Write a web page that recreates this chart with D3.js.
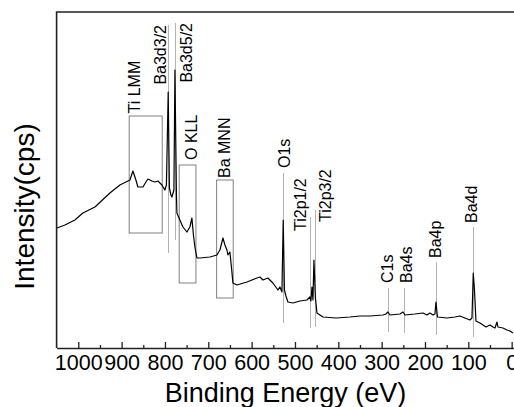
<!DOCTYPE html>
<html>
<head>
<meta charset="utf-8">
<script src="https://cdn.jsdelivr.net/npm/d3@7"></script>
<style>
  body { margin: 0; background: #fff; }
  svg { display: block; }
  text { font-family: Arial, "Liberation Sans", sans-serif; fill: #000; }
</style>
</head>
<body>
<svg id="xps_svg" width="514" height="407"></svg>
<script>
// survey spectrum, binding energy (eV) vs counts
const energy = [1049.3, 1030.8, 1007.8, 989.3, 961.6, 927.0, 903.9, 885.5, 880.8, 873.9,
    867.0, 862.4, 850.8, 843.9, 839.3, 830.1, 823.2, 816.2, 807.0, 800.1,
    796.6, 792.5, 789.7, 786.2, 783.9, 779.3, 777.0, 773.5, 772.4, 765.5,
    758.5, 749.3, 742.4, 737.8, 734.3, 730.9, 726.2, 719.3, 696.2, 680.1,
    673.2, 666.2, 661.6, 657.0, 654.7, 650.1, 645.5, 643.2, 633.9, 610.8,
    587.8, 580.8, 573.9, 562.4, 550.9, 539.3, 534.7, 530.1, 527.1, 524.3,
    520.9, 516.2, 504.7, 488.5, 472.4, 465.5, 463.2, 460.8, 458.5, 456.2,
    452.8, 449.3, 442.4, 435.5, 405.0, 373.2, 350.0, 327.0, 297.0, 290.1,
    285.5, 280.8, 257.8, 250.8, 246.2, 223.2, 204.7, 195.5, 188.5, 181.6,
    177.0, 174.7, 171.2, 149.3, 130.8, 119.3, 107.8, 96.2, 91.6, 88.6,
    85.8, 82.4, 77.8, 73.2, 66.2, 59.3, 50.1, 43.2, 38.5, 33.9,
    31.6, 20.1, 10.8, 3.9, -3.0];
const counts = [12000, 12300, 12800, 13500, 14100, 15500, 16300, 16700, 16800, 17700,
    16800, 16100, 16100, 16600, 16900, 16700, 16600, 16700, 16300, 15800,
    16300, 25600, 16000, 15300, 15100, 15800, 27800, 15300, 13500, 12800,
    12100, 11600, 12100, 13000, 11300, 10100, 9000, 9000, 9100, 9300,
    9800, 11000, 10300, 9800, 9300, 9600, 7600, 6500, 6300, 6600,
    7000, 7100, 6800, 7000, 6500, 5800, 6100, 5600, 12800, 5800,
    5200, 4600, 4500, 4700, 4800, 5100, 4700, 6100, 4800, 8800,
    5000, 3500, 3300, 3100, 3000, 3100, 3200, 3200, 3300, 3400,
    3600, 3300, 3400, 3600, 3300, 3400, 3500, 3300, 3500, 3300,
    3400, 4600, 3100, 3000, 3100, 3200, 3000, 2800, 3000, 7500,
    5800, 2700, 2600, 2500, 2300, 2100, 2300, 2100, 2000, 2600,
    2100, 2000, 1800, 1700, 1500];

// peak markers: name, energy of the marker line, line top / bottom in counts
const peakNames = ["Ba3d3/2", "Ba3d5/2", "O1s", "Ti2p1/2", "Ti2p3/2", "C1s", "Ba4s", "Ba4p", "Ba4d"];
const peakEnergy = [792.5, 777.0, 527.1, 465.5, 453.9, 284.8, 248.5, 174.7, 88.6];
const peakTop = [32300, 32500, 17500, 13100, 13800, 6000, 6000, 8600, 12100];
const peakBottom = [9500, 10800, 2500, 2000, 2100, 1600, 1500, 1300, 1100];

// auger regions: name, energy range, counts range
const regionNames = ["Ti LMM", "O KLL", "Ba MNN"];
const regionFrom = [882.5, 767.1, 680.8];
const regionTo = [806.3, 728.5, 642.5];
const regionHigh = [23200, 18300, 16800];
const regionLow = [11500, 6500, 5000];

const majorTicks = [1000, 900, 800, 700, 600, 500, 400, 300, 200, 100, 0];

// where each label sits next to its marker (px)
const labelPos = {
    "Ba3d3/2": {dx: -2, dy: 0, anchor: "end"},
    "Ba3d5/2": {dx: 17.5, dy: 0, anchor: "end"},
    "O1s": {dx: 6.5, dy: -5, anchor: "start"},
    "Ti2p1/2": {dx: -3.5, dy: 14, anchor: "start"},
    "Ti2p3/2": {dx: 16.5, dy: 12, anchor: "start"},
    "C1s": {dx: 5, dy: -5, anchor: "start"},
    "Ba4s": {dx: 8.5, dy: -5, anchor: "start"},
    "Ba4p": {dx: 5.5, dy: -4, anchor: "start"},
    "Ba4d": {dx: 4, dy: -4, anchor: "start"},
    "Ti LMM": {dx: 11, dy: -2.5, anchor: "start"},
    "O KLL": {dx: 17.5, dy: -5, anchor: "start"},
    "Ba MNN": {dx: 13.5, dy: -2, anchor: "start"}
};

function drawSpectrum(){
    const svg = d3.select('#xps_svg');
    svg.selectAll("*").remove();

    const left = 56.6, top = 12, bottom = 348, right = 516;

    const x = d3.scaleLinear().domain([1050, -10]).range([left, right]);
    const y = d3.scaleLinear().domain([0, 33600]).range([bottom, top]);

    svg.append("clipPath").attr("id", "plotclip")
      .append("rect")
        .attr("x", left).attr("y", top)
        .attr("width", right - left).attr("height", bottom - top);

    const data = energy.map((e, i) => ({e: e, c: counts[i]}));

    // auger boxes
    svg.append("g")
      .selectAll("rect")
      .data(regionNames)
      .enter().append("rect")
        .attr("x", (d, i) => x(regionFrom[i]))
        .attr("y", (d, i) => y(regionHigh[i]))
        .attr("width", (d, i) => x(regionTo[i]) - x(regionFrom[i]))
        .attr("height", (d, i) => y(regionLow[i]) - y(regionHigh[i]))
        .attr("fill", "none")
        .attr("stroke", "#808080")
        .attr("stroke-width", 1);

    // marker lines
    svg.append("g")
      .selectAll("line")
      .data(peakNames)
      .enter().append("line")
        .attr("x1", (d, i) => Math.round(x(peakEnergy[i])) + 0.5)
        .attr("x2", (d, i) => Math.round(x(peakEnergy[i])) + 0.5)
        .attr("y1", (d, i) => y(peakTop[i]))
        .attr("y2", (d, i) => y(peakBottom[i]))
        .attr("stroke", "#b4b4b4")
        .attr("stroke-width", 1);

    // the spectrum
    const line = d3.line().x(d => x(d.e)).y(d => y(d.c));
    svg.append("path")
      .datum(data)
      .attr("clip-path", "url(#plotclip)")
      .attr("d", line)
      .attr("fill", "none")
      .attr("stroke", "#000")
      .attr("stroke-width", 1.2)
      .attr("stroke-linejoin", "round");

    // labels, rotated
    const labels = svg.append("g").attr("font-size", 16);
    peakNames.forEach((name, i) => {
        const p = labelPos[name];
        labels.append("text")
          .attr("transform", "translate(" + (x(peakEnergy[i]) + p.dx) + "," + (y(peakTop[i]) + p.dy) + ") rotate(-90)")
          .attr("text-anchor", p.anchor)
          .text(name);
    });
    regionNames.forEach((name, i) => {
        const p = labelPos[name];
        labels.append("text")
          .attr("transform", "translate(" + (x(regionFrom[i]) + p.dx) + "," + (y(regionHigh[i]) + p.dy) + ") rotate(-90)")
          .attr("text-anchor", p.anchor)
          .text(name);
    });

    // x axis, ticks point inward
    const minorAxis = d3.axisBottom(x)
        .tickValues(d3.range(950, -1, -100))
        .tickSize(-3)
        .tickFormat("");
    svg.append("g")
      .attr("transform", "translate(0," + bottom + ")")
      .call(minorAxis)
      .call(g => g.select(".domain").remove())
      .selectAll("line").attr("stroke", "#222").attr("stroke-width", 1.3);

    const xAxis = d3.axisBottom(x)
        .tickValues(majorTicks)
        .tickSizeInner(-6)
        .tickSizeOuter(0)
        .tickPadding(7)
        .tickFormat(d3.format("d"));
    const gx = svg.append("g")
      .attr("transform", "translate(0," + bottom + ")")
      .call(xAxis);
    gx.select(".domain").attr("stroke", "#222").attr("stroke-width", 1.6);
    gx.selectAll("line").attr("stroke", "#222").attr("stroke-width", 1.3);
    gx.selectAll("text")
      .style("font-family", "Arial, 'Liberation Sans', sans-serif")
      .attr("font-size", 21.5)
      .attr("fill", "#000");

    // frame: left and top
    svg.append("path")
      .attr("d", "M" + left + "," + bottom + "V" + top + "H" + right)
      .attr("fill", "none")
      .attr("stroke", "#222")
      .attr("stroke-width", 1.6);

    svg.append("text")
      .attr("x", 285.5)
      .attr("y", 402)
      .attr("text-anchor", "middle")
      .attr("font-size", 27)
      .text("Binding Energy (eV)");

    svg.append("text")
      .attr("transform", "translate(33.5,206.5) rotate(-90)")
      .attr("text-anchor", "middle")
      .attr("font-size", 28)
      .text("Intensity(cps)");
}

drawSpectrum();
</script>
</body>
</html>
